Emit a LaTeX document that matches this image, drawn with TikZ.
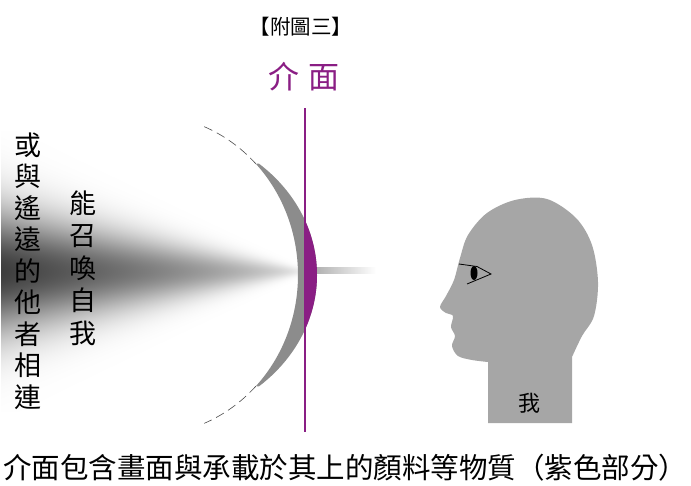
\documentclass[tikz,border=0pt]{standalone}
\usepackage{fontspec}
\setmainfont{Noto Sans CJK TC}
\usepackage{tikz}
\usetikzlibrary{calc}

\definecolor{jmpurple}{RGB}{138,30,132}

% soft cone of light, narrowing to the right
\pgfdeclarefunctionalshading{beamcone}{\pgfpointorigin}{\pgfpoint{303bp}{280bp}}{}{
  140 sub abs exch 303 div 1 exch sub
  dup 58 mul 3 add 3 -1 roll exch div
  dup mul neg 2.71828 exch exp exch
  0.6 exp 0.76 mul mul 1 exch sub
  dup dup
}

\begin{document}
\begin{tikzpicture}[
  x=1pt, y=-1pt,
  title/.style={inner sep=0pt, font=\fontsize{20.5}{24}\selectfont},
  vtext/.style={align=center, inner sep=0pt},
  iface/.style={draw=jmpurple, line width=1.6pt},
  lens/.style={fill=black!45},
  rim/.style={draw=black!70, line width=0.6pt, dash pattern=on 9pt off 5pt},
  head/.style={fill=black!35}
]
\useasboundingbox (0,0) rectangle (691,485);

% light coming in from the left, and leaving on the right
\node[inner sep=0pt, anchor=west] (beam) at (0,271) {\pgfuseshading{beamcone}};
\fill[left color=black!30, right color=white] (317,267) rectangle (376,273);

% the picture surface: dashed rim and crescent
\coordinate (hc) at (148,275);
\draw[rim] (hc) ++(-68:150 and 160) arc[start angle=-68, end angle=-44, x radius=150, y radius=160];
\draw[rim] (hc) ++(44:150 and 160) arc[start angle=44, end angle=68, x radius=150, y radius=160];
\fill[lens] (hc) ++(-44:150 and 160) arc[start angle=-44, end angle=44, x radius=150, y radius=160]
  -- ($(hc)+(49:169 and 147.6)$) arc[start angle=49, end angle=-49, x radius=169, y radius=147.6] -- cycle;
\begin{scope}
  \clip (305,100) rectangle (340,440);
  \fill[jmpurple] (hc) ++(-44:150 and 160) arc[start angle=-44, end angle=44, x radius=150, y radius=160]
    -- ($(hc)+(49:169 and 147.6)$) arc[start angle=49, end angle=-49, x radius=169, y radius=147.6] -- cycle;
\end{scope}

% interface line
\coordinate (ltop) at (305,108);
\coordinate (lbot) at (305,432);
\draw[iface] (ltop) -- (lbot);

% head in profile
\fill[head] (488,362) -- (488,423) -- (572,423) -- (572,357)
  plot[smooth, tension=0.55] coordinates {(572,357) (582,336) (594,316) (598,282) (592,245) (576,218) (547,199)
    (515,200) (487,213) (468,235) (460,258) (454,280) (446,296) (440,307) (446,313) (453,316)
    (451,327) (455,336) (452,346) (458,356) (472,360) (488,362)} -- cycle;
\draw[line width=0.8pt] (459,264) -- (477,266.5) -- (491,274) -- (467,284);
\fill (474,273) ellipse[x radius=3.5, y radius=7];

% texts
\node[title] (fig) at (301,27) {【附圖三】};
\node[inner sep=0pt, text=jmpurple, font=\fontsize{31}{34}\selectfont] (jm) at (304,77) {介\hspace{9pt}面};
\node[vtext, font=\fontsize{27}{31.5}\selectfont] (other) at (28,271)
  {或\\與\\遙\\遠\\的\\他\\者\\相\\連};
\node[vtext, font=\fontsize{27}{32.5}\selectfont] (call) at (83,268)
  {能\\召\\喚\\自\\我};
\node[inner sep=0pt, font=\fontsize{22}{24}\selectfont] (me) at (529,403) {我};
\node[inner sep=0pt, font=\fontsize{28.5}{32}\selectfont] (cap) at (345.5,468)
  {介面包含畫面與承載於其上的顏料等物質（紫色部分）};
\end{tikzpicture}
\end{document}
